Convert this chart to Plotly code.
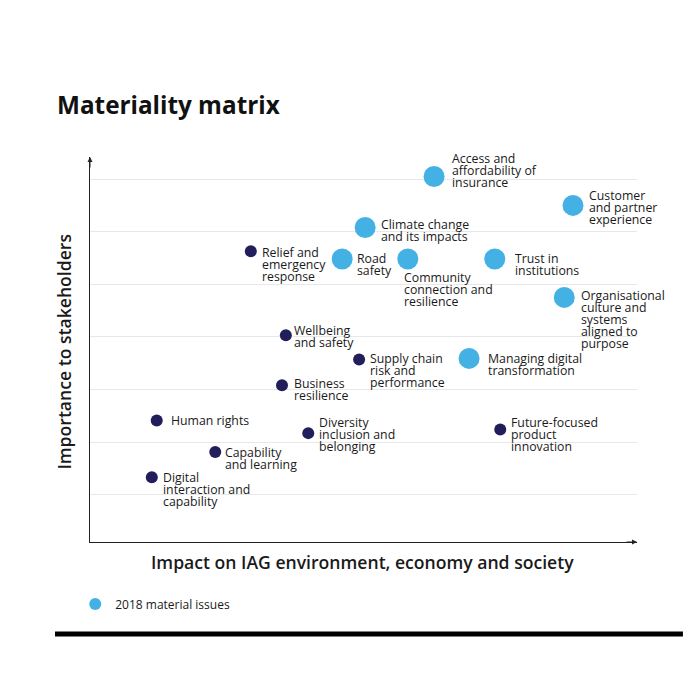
import plotly.graph_objects as go

# Material issues (x = impact on IAG environment, economy and society,
# y = importance to stakeholders), read off the matrix
issues = [
    "Access and\naffordability of\ninsurance",
    "Customer\nand partner\nexperience",
    "Climate change\nand its impacts",
    "Road\nsafety",
    "Community\nconnection and\nresilience",
    "Trust in\ninstitutions",
    "Organisational\nculture and\nsystems\naligned to\npurpose",
    "Managing digital\ntransformation",
    "Relief and\nemergency\nresponse",
    "Wellbeing\nand safety",
    "Supply chain\nrisk and\nperformance",
    "Business\nresilience",
    "Human rights",
    "Diversity\ninclusion and\nbelonging",
    "Future-focused\nproduct\ninnovation",
    "Capability\nand learning",
    "Digital\ninteraction and\ncapability",
]
impact = [6.29, 8.83, 5.03, 4.61, 5.81, 7.40, 8.67, 6.93,
          2.94, 3.58, 4.92, 3.51, 1.22, 3.99, 7.50, 2.29, 1.13]
importance = [7.05, 6.50, 6.08, 5.48, 5.48, 5.48, 4.75, 3.59,
              5.63, 4.03, 3.57, 3.08, 2.41, 2.17, 2.24, 1.81, 1.33]
material_2018 = [True, True, True, True, True, True, True, True,
                 False, False, False, False, False, False, False, False, False]

legend_label = "2018 material issues"
x_title = "Impact on IAG environment, economy and society"
y_title = "Importance to stakeholders"
chart_title = "Materiality matrix"

# label placement (pixels from dot centre to first text line)
label_offsets = [(16, -18), (14, -10), (14, -3), (13, -1), (-6, 18), (18, -1),
                 (15, -2), (17, 0), (9, 1), (6, -5), (9, -1), (10, -2),
                 (12, 0), (9, -11), (9, -7), (8, 0), (9, 0)]
LINE_H = 12

BLUE = "#44B1E4"
NAVY = "#221E5C"
FONT = "Open Sans"
TEXT = "#1a1a1a"
W = 692  # page adds an 8px body margin around the figure

fig = go.Figure()

new_x = [x for x, m in zip(impact, material_2018) if not m]
new_y = [y for y, m in zip(importance, material_2018) if not m]
old_x = [x for x, m in zip(impact, material_2018) if m]
old_y = [y for y, m in zip(importance, material_2018) if m]

fig.add_trace(go.Scatter(
    x=new_x, y=new_y, mode="markers",
    marker=dict(size=12, color=NAVY), showlegend=False, cliponaxis=False,
))
fig.add_trace(go.Scatter(
    x=old_x, y=old_y, mode="markers",
    marker=dict(size=21, color=BLUE), showlegend=False, cliponaxis=False,
))
# legend entry only (smaller dot like the printed key)
fig.add_trace(go.Scatter(
    x=[None], y=[None], mode="markers", name=legend_label,
    marker=dict(size=12, color=BLUE), showlegend=True,
))

annotations = []
for name, x, y, (dx, dy) in zip(issues, impact, importance, label_offsets):
    for i, line in enumerate(name.split("\n")):
        annotations.append(dict(
            x=x, y=y, xref="x", yref="y", text=line, showarrow=False,
            xanchor="left", yanchor="middle",
            xshift=dx, yshift=-(dy + i * LINE_H),
            font=dict(family=FONT, size=12.3, color=TEXT),
        ))

# axis arrow heads
annotations.append(dict(x=10, y=0.1, xref="x", yref="y", ax=-12, ay=0,
                        axref="pixel", ayref="pixel", text="", showarrow=True,
                        arrowhead=2, arrowsize=1, arrowwidth=1, arrowcolor="#222"))
annotations.append(dict(x=0, y=7.42, xref="x", yref="y", ax=0, ay=12,
                        axref="pixel", ayref="pixel", text="", showarrow=True,
                        arrowhead=2, arrowsize=1, arrowwidth=1, arrowcolor="#222"))

# axis titles
annotations.append(dict(x=0.499, y=-0.052, xref="paper", yref="paper",
                        text=x_title, showarrow=False, xanchor="center", yanchor="middle",
                        font=dict(family=FONT, size=17.6, color=TEXT, weight=600)))
annotations.append(dict(x=-0.048, y=0.494, xref="paper", yref="paper",
                        text=y_title, showarrow=False, textangle=-90,
                        xanchor="center", yanchor="middle",
                        font=dict(family=FONT, size=17.6, color=TEXT, weight=600)))

fig.update_layout(
    width=W, height=W,
    margin=dict(l=82, r=63, t=149, b=158),
    paper_bgcolor="white", plot_bgcolor="white",
    title=dict(text=chart_title, xref="container", yref="container",
               x=(57 - 8) / W, y=1 - (105 - 8) / W, xanchor="left", yanchor="middle",
               font=dict(family=FONT, size=24.3, color="#111", weight="bold")),
    annotations=annotations,
    legend=dict(x=-0.027, y=-0.161, xanchor="left", yanchor="middle",
                font=dict(family=FONT, size=12, color=TEXT),
                bgcolor="rgba(0,0,0,0)"),
    shapes=[dict(type="line", xref="paper", yref="paper",
                 x0=-0.064, x1=1.084, y0=-0.239, y1=-0.239,
                 line=dict(color="black", width=5))],
)

fig.update_xaxes(range=[0, 10], showgrid=False, zeroline=False,
                 showticklabels=False, ticks="", showline=True,
                 linecolor="#222", linewidth=1)
fig.update_yaxes(range=[0.1, 7.42], tickvals=[1, 2, 3, 4, 5, 6, 7],
                 showgrid=True, gridcolor="#e8e8e8", gridwidth=1,
                 zeroline=False, showticklabels=False, ticks="",
                 showline=True, linecolor="#222", linewidth=1)

fig.write_html("out.html")
